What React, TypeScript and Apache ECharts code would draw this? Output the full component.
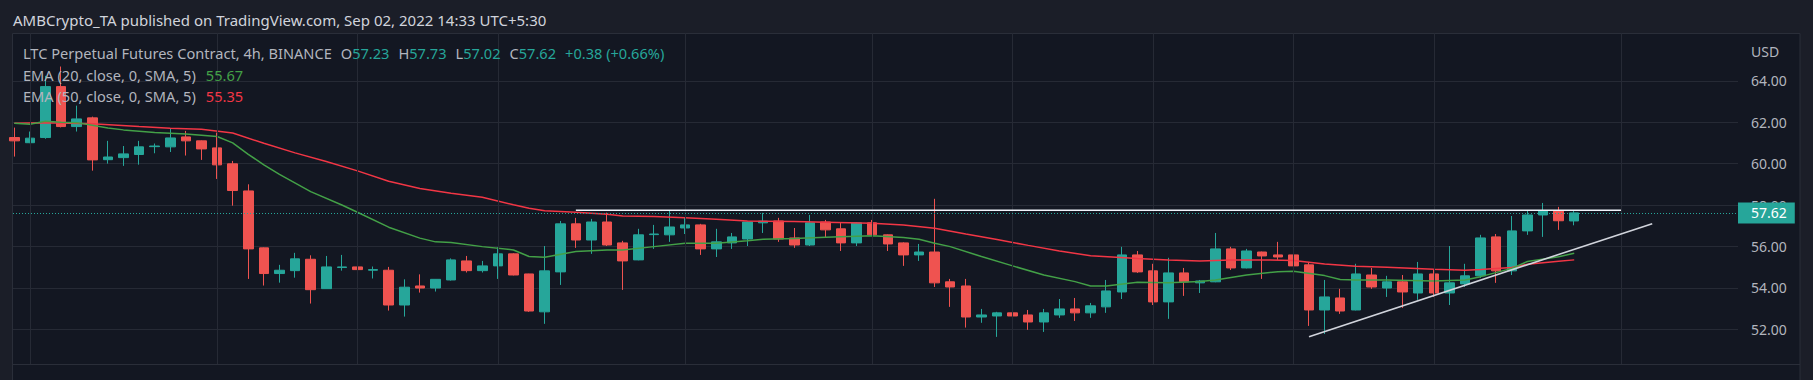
import React, { useEffect, useRef } from 'react';
import * as echarts from 'echarts';

const FONT = '"Noto Sans", sans-serif';
const UP = '#26a69a';
const DOWN = '#ef5350';
const EMA20_COLOR = '#43a047';
const EMA50_COLOR = '#f23645';

const titleText = 'AMBCrypto_TA published on TradingView.com, Sep 02, 2022 14:33 UTC+5:30';
const symbolText = 'LTC Perpetual Futures Contract, 4h, BINANCE';
const ohlcLabels = ['O', 'H', 'L', 'C'];
const ohlcValues = ['57.23', '57.73', '57.02', '57.62'];
const changeText = '+0.38 (+0.66%)';
const ema20Label = 'EMA (20, close, 0, SMA, 5)';
const ema50Label = 'EMA (50, close, 0, SMA, 5)';
const currency = 'USD';
const lastPrice = 57.62;
const ema20Last = 55.67;
const ema50Last = 55.35;

const priceTicks = [52, 54, 56, 58, 60, 62, 64];
const timeGridIdx = [1, 13, 22, 31, 43, 55, 64, 73, 82, 91, 103];

// [open, high, low, close], one row per 4h candle
const candlesOHLC = [
  [61.26, 61.74, 60.34, 61.10], [61.01, 61.55, 60.99, 61.23], [61.26, 64.24, 61.20, 63.72], [63.72, 64.69, 61.75, 61.79],
  [61.79, 62.80, 61.55, 62.16], [62.21, 62.27, 59.66, 60.18], [60.19, 61.10, 60.00, 60.32], [60.29, 60.85, 59.89, 60.47],
  [60.44, 61.10, 59.95, 60.81], [60.82, 60.97, 60.50, 60.85], [60.81, 61.68, 60.56, 61.24], [61.29, 61.58, 60.39, 61.10],
  [61.10, 61.12, 60.18, 60.71], [60.76, 61.50, 59.26, 59.94], [59.99, 60.13, 57.97, 58.70], [58.68, 59.00, 54.43, 55.88],
  [55.93, 55.95, 54.11, 54.69], [54.69, 55.11, 54.25, 54.85], [54.83, 55.69, 54.49, 55.40], [55.38, 55.57, 53.24, 53.91],
  [53.96, 55.54, 53.95, 55.01], [54.98, 55.59, 54.83, 55.01], [55.01, 55.06, 54.45, 54.88], [54.85, 55.03, 54.45, 54.88],
  [54.85, 55.01, 52.90, 53.17], [53.17, 54.41, 52.61, 54.03], [54.09, 54.65, 53.77, 53.99], [53.99, 54.42, 53.82, 54.41],
  [54.38, 55.42, 54.35, 55.35], [55.30, 55.54, 54.74, 54.83], [54.83, 55.30, 54.74, 55.06], [55.06, 55.96, 54.43, 55.64],
  [55.64, 55.67, 54.60, 54.62], [54.67, 54.68, 52.84, 52.88], [52.84, 56.02, 52.26, 54.82], [54.77, 57.23, 54.14, 57.09],
  [57.09, 57.38, 55.93, 56.31], [56.31, 57.33, 55.64, 57.18], [57.18, 57.63, 56.02, 56.07], [56.17, 56.27, 53.90, 55.30],
  [55.35, 56.85, 55.33, 56.56], [56.57, 57.04, 55.88, 56.60], [56.56, 57.73, 56.22, 56.94], [56.89, 57.38, 56.60, 57.04],
  [57.04, 57.09, 55.59, 55.88], [55.88, 56.85, 55.49, 56.22], [56.17, 56.65, 55.88, 56.46], [56.36, 57.20, 56.02, 57.18],
  [57.14, 57.62, 56.65, 57.22], [57.23, 57.38, 56.22, 56.36], [56.41, 56.89, 55.93, 56.07], [56.07, 57.52, 56.02, 57.14],
  [57.18, 57.28, 56.41, 56.80], [56.85, 57.14, 55.78, 56.17], [56.17, 57.18, 56.02, 57.14], [57.14, 57.28, 56.54, 56.56],
  [56.56, 56.58, 55.78, 56.12], [56.17, 56.20, 55.06, 55.59], [55.59, 56.12, 55.30, 55.73], [55.73, 58.30, 54.04, 54.24],
  [54.29, 54.43, 53.08, 54.04], [54.09, 54.43, 52.08, 52.59], [52.59, 52.98, 52.31, 52.69], [52.64, 52.84, 51.63, 52.79],
  [52.79, 52.84, 52.40, 52.64], [52.69, 52.93, 51.97, 52.35], [52.35, 52.98, 51.87, 52.79], [52.69, 53.46, 52.55, 52.98],
  [52.98, 53.51, 52.40, 52.79], [52.79, 53.27, 52.55, 53.13], [53.08, 54.38, 52.79, 53.85], [53.80, 55.98, 53.46, 55.59],
  [55.59, 55.78, 54.72, 54.77], [54.82, 55.16, 53.17, 53.32], [53.32, 55.45, 52.50, 54.72], [54.72, 54.96, 53.61, 54.29],
  [54.24, 54.38, 53.75, 54.33], [54.29, 56.65, 54.27, 55.88], [55.88, 55.98, 54.86, 54.96], [54.96, 55.88, 54.94, 55.78],
  [55.73, 55.75, 54.43, 55.54], [55.59, 56.22, 55.35, 55.49], [55.59, 55.83, 54.86, 55.06], [55.11, 55.25, 52.16, 52.93],
  [52.93, 54.38, 51.77, 53.56], [53.51, 53.95, 52.74, 52.88], [52.93, 55.16, 52.91, 54.67], [54.62, 54.96, 53.95, 54.04],
  [53.99, 54.58, 53.56, 54.29], [54.29, 54.62, 53.03, 53.80], [53.75, 55.25, 53.42, 54.67], [54.67, 54.86, 53.56, 53.75],
  [53.75, 56.02, 53.17, 54.24], [54.19, 55.16, 54.04, 54.58], [54.58, 56.56, 54.48, 56.41], [56.46, 56.60, 54.24, 54.82],
  [54.82, 57.47, 54.62, 56.75], [56.75, 57.76, 56.56, 57.52], [57.52, 58.10, 56.46, 57.71], [57.71, 57.91, 56.80, 57.24],
  [57.23, 57.73, 57.02, 57.62],
];

// [candle index, value]
const ema20 = [
  [0, 61.95], [1, 61.9], [2, 62.05], [3, 62.0], [4, 61.98], [5, 61.85], [6, 61.72], [7, 61.63], [9, 61.5], [11, 61.43],
  [13, 61.31], [14, 61.0], [15, 60.45], [16, 59.94], [17, 59.48], [19, 58.65], [21, 58.0], [22, 57.65], [24, 56.93],
  [26, 56.4], [27, 56.22], [28, 56.19], [30, 55.99], [32, 55.83], [33, 55.51], [34, 55.48], [36, 55.75], [38, 55.83],
  [39, 55.83], [41, 55.99], [43, 56.15], [45, 56.15], [47, 56.27], [48, 56.35], [50, 56.38], [52, 56.44], [55, 56.51],
  [57, 56.43], [58, 56.35], [59, 56.15], [60, 55.99], [62, 55.51], [64, 55.06], [66, 54.62], [68, 54.3], [69, 54.09],
  [70, 54.09], [72, 54.27], [74, 54.24], [76, 54.3], [77, 54.38], [79, 54.62], [81, 54.78], [82, 54.8], [84, 54.59],
  [85, 54.4], [86, 54.38], [88, 54.38], [91, 54.33], [93, 54.38], [94, 54.54], [96, 54.94], [97, 55.27], [99, 55.5],
  [100, 55.67],
];
const ema50 = [
  [0, 61.95], [2, 61.98], [5, 61.93], [8, 61.79], [10, 61.71], [12, 61.66], [14, 61.48], [16, 60.98], [18, 60.52],
  [20, 60.1], [22, 59.65], [24, 59.15], [26, 58.8], [28, 58.57], [30, 58.38], [32, 58.01], [33, 57.84], [34, 57.72],
  [36, 57.65], [38, 57.55], [39, 57.47], [41, 57.44], [43, 57.39], [45, 57.31], [47, 57.23], [50, 57.2], [52, 57.17],
  [55, 57.12], [57, 57.03], [59, 56.88], [61, 56.6], [63, 56.33], [65, 56.05], [67, 55.78], [69, 55.55], [72, 55.42],
  [74, 55.35], [76, 55.3], [78, 55.35], [80, 55.35], [82, 55.32], [84, 55.15], [86, 55.04], [88, 54.99], [91, 54.9],
  [93, 54.85], [94, 54.88], [96, 54.98], [97, 55.14], [99, 55.28], [100, 55.35],
];
const resistance = [[36, 57.75], [103, 57.75]];
const trendline = [[83, 51.64], [105, 57.1]];

export default function App() {
  const ref = useRef<HTMLDivElement>(null);
  useEffect(() => {
    if (!ref.current) return;
    const chart = echarts.init(ref.current, undefined, { renderer: 'svg' });
    const candleData = candlesOHLC.map((d, i) => [i, d[0], d[3], d[2], d[1]]);
    const boxLabel = (bg: string, val: number, offsetY = 0) => ({
      show: true,
      position: 'end',
      distance: 0,
      formatter: val.toFixed(2),
      color: '#ffffff',
      backgroundColor: bg,
      padding: [3, 8, 3, 13],
      fontSize: 14,
      lineHeight: 15,
      fontFamily: FONT,
      offset: [0, offsetY],
    });
    const LF = 14.6;
    const option: any = {
      animation: false,
      backgroundColor: '#1b1e28',
      grid: { left: 13, right: 75, top: 33, bottom: 16 },
      xAxis: { type: 'value', min: -0.083, max: 110.5, show: false },
      yAxis: {
        type: 'value',
        position: 'right',
        min: 50.32,
        max: 66.31,
        axisLine: { show: false },
        axisTick: { show: false, customValues: priceTicks },
        axisLabel: {
          customValues: priceTicks,
          formatter: (v: number) => v.toFixed(2),
          color: '#b2b5be',
          fontSize: 14,
          fontFamily: FONT,
          margin: 13,
        },
        splitLine: { show: true, lineStyle: { color: '#262a35', width: 1 } },
      },
      graphic: [
        {
          type: 'rect', z: -10, silent: true,
          shape: { x: 12.5, y: 33.5, width: 1787.5, height: 360 },
          style: { fill: '#131722', stroke: '#2a2e39', lineWidth: 1 },
        },
        {
          type: 'line', z: -9, silent: true,
          shape: { x1: 12.5, y1: 364.5, x2: 1800, y2: 364.5 },
          style: { stroke: '#2a2e39', lineWidth: 1 },
        },
        {
          type: 'text', z: 100, x: 13, y: 20,
          style: { text: titleText, fill: '#d1d4dc', fontSize: 15, fontFamily: FONT, verticalAlign: 'middle' },
        },
        {
          type: 'text', z: 100, x: 23, y: 53,
          style: {
            text:
              '{g|' + symbolText + '}{s| }' +
              ohlcLabels.map((l, k) => '{g|' + l + '}{t|' + ohlcValues[k] + '}{s| }').join('') +
              '{t|' + changeText + '}',
            verticalAlign: 'middle',
            rich: {
              g: { fill: '#b2b5be', fontSize: LF, fontFamily: FONT },
              t: { fill: UP, fontSize: LF, fontFamily: FONT },
              s: { fontSize: LF, width: 9 },
            },
          },
        },
        {
          type: 'text', z: 100, x: 23, y: 75,
          style: {
            text: '{g|' + ema20Label + '}{s| }{v|' + ema20Last.toFixed(2) + '}',
            verticalAlign: 'middle',
            rich: {
              g: { fill: '#b2b5be', fontSize: LF, fontFamily: FONT },
              v: { fill: EMA20_COLOR, fontSize: LF, fontFamily: FONT },
              s: { fontSize: LF, width: 10 },
            },
          },
        },
        {
          type: 'text', z: 100, x: 23, y: 96,
          style: {
            text: '{g|' + ema50Label + '}{s| }{v|' + ema50Last.toFixed(2) + '}',
            verticalAlign: 'middle',
            rich: {
              g: { fill: '#b2b5be', fontSize: LF, fontFamily: FONT },
              v: { fill: EMA50_COLOR, fontSize: LF, fontFamily: FONT },
              s: { fontSize: LF, width: 10 },
            },
          },
        },
        {
          type: 'text', z: 100, x: 1751, y: 51,
          style: { text: currency, fill: '#b2b5be', fontSize: 14, fontFamily: FONT, verticalAlign: 'middle' },
        },
      ],
      series: [
        {
          type: 'line',
          name: 'timeGrid',
          data: [],
          z: 1,
          silent: true,
          markLine: {
            silent: true,
            symbol: ['none', 'none'],
            label: { show: false },
            lineStyle: { color: '#262a35', type: 'solid', width: 1 },
            data: timeGridIdx.map((i) => ({ xAxis: i })),
          },
        },
        {
          type: 'candlestick',
          name: 'LTC',
          data: candleData,
          encode: { x: 0, y: [1, 2, 3, 4] },
          barWidth: 10,
          z: 2,
          itemStyle: { color: UP, color0: DOWN, borderColor: UP, borderColor0: DOWN, borderWidth: 1 },
          markLine: {
            silent: true,
            symbol: ['none', 'none'],
            lineStyle: { color: UP, type: [1, 2], width: 1 },
            label: boxLabel(UP, lastPrice),
            data: [{ yAxis: lastPrice }],
          },
        },
        {
          type: 'line',
          name: 'EMA50',
          data: ema50,
          symbol: 'none',
          z: 3,
          lineStyle: { color: EMA50_COLOR, width: 1.5 },
          markLine: {
            silent: true,
            symbol: ['none', 'none'],
            lineStyle: { opacity: 0 },
            label: boxLabel(EMA50_COLOR, ema50Last, 14.5),
            data: [{ yAxis: ema50Last }],
          },
        },
        {
          type: 'line',
          name: 'EMA20',
          data: ema20,
          symbol: 'none',
          z: 4,
          lineStyle: { color: EMA20_COLOR, width: 1.5 },
          markLine: {
            silent: true,
            symbol: ['none', 'none'],
            lineStyle: { opacity: 0 },
            label: boxLabel('#4caf50', ema20Last),
            data: [{ yAxis: ema20Last }],
          },
        },
        {
          type: 'line',
          name: 'resistance',
          data: resistance,
          symbol: 'none',
          z: 5,
          lineStyle: { color: '#f0f3fa', width: 1.6 },
        },
        {
          type: 'line',
          name: 'trend',
          data: trendline,
          symbol: 'none',
          z: 5,
          lineStyle: { color: '#d1d4dc', width: 1.6 },
        },
      ],
    };
    chart.setOption(option);
    return () => chart.dispose();
  }, []);
  return (
    <div
      ref={ref}
      style={{ position: 'fixed', left: 0, top: 0, width: 1813, height: 380, background: '#1b1e28' }}
    />
  );
}
